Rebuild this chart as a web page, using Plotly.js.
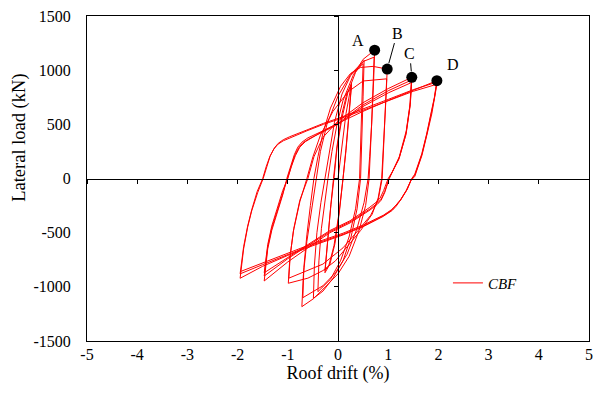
<!DOCTYPE html>
<html>
<head>
<meta charset="utf-8">
<script src="https://cdn.plot.ly/plotly-3.0.1.min.js"></script>
<style>html,body{margin:0;padding:0;background:#fff;}#chart{width:597px;height:394px;}</style>
</head>
<body>
<div id="chart"></div>
<script>
// Hysteresis response of the CBF: roof drift (%) vs lateral load (kN)
const drift = [
  0,0.08,0.16,0.27,
  0.22,0.16,0.1,0.03,-0.06,-0.16,-0.26,
  -0.21,-0.15,-0.09,-0.02,0.08,0.18,0.27,
  0.22,0.16,0.1,0.02,-0.08,-0.18,-0.26,
  -0.2,-0.14,-0.08,
  -0.02,0.08,0.2,0.35,0.52,
  0.5,0.48,0.45,0.38,0.26,0.1,-0.1,-0.3,-0.49,
  -0.47,-0.42,-0.34,-0.26,-0.18,-0.07,0.08,0.25,0.5,
  0.48,0.46,0.43,0.35,0.22,0.05,-0.15,-0.4,
  -0.38,-0.33,-0.26,-0.2,-0.12,-0.02,0.1,0.3,0.5,0.73,
  0.71,0.68,0.65,0.62,0.55,0.42,0.22,0.0,-0.23,-0.49,-0.72,
  -0.69,-0.62,-0.52,-0.44,-0.35,-0.22,0.0,0.25,0.5,0.72,
  0.7,0.67,0.63,0.6,0.52,0.38,0.18,-0.05,-0.3,-0.7,
  -0.68,-0.62,-0.55,-0.48,-0.4,-0.3,-0.15,0.05,0.25,0.45,0.7,0.98,
  0.96,0.93,0.9,0.87,0.8,0.68,0.45,0.2,-0.05,-0.3,-0.6,-0.99,
  -0.96,-0.89,-0.76,-0.62,-0.5,-0.35,-0.1,0.2,0.5,0.97,
  0.95,0.92,0.88,0.8,0.65,0.4,0.1,-0.3,-0.98,
  -0.95,-0.88,-0.76,-0.6,-0.48,-0.3,0,0.5,1.0,1.47,
  1.44,1.36,1.22,1.1,1.02,0.93,0.86,0.78,0.64,0.24,-0.16,-0.6,-1.0,-1.47,
  -1.4,-1.32,-1.22,-1.1,-1.02,-0.95,-0.87,-0.8,-0.72,-0.6,-0.45,-0.3,0,0.5,1.0,1.47,
  1.44,1.36,1.22,1.1,1.02,0.93,0.86,0.78,0.64,0.24,-0.16,-0.6,-1.0,-1.47,
  -1.4,-1.32,-1.22,-1.1,-1.01,-0.94,-0.86,-0.78,-0.7,-0.58,-0.45,-0.3,0,0.5,1.0,1.46,
  1.43,1.35,1.21,1.08,1.0,0.91,0.84,0.76,0.62,0.24,-0.16,-0.6,-1.0,-1.47,
  -1.4,-1.32,-1.22,-1.1,-1.0,-0.93,-0.85,-0.76,-0.65,-0.4,0,0.5,1.0,1.5,1.97,
  1.92,1.87,1.77,1.67,1.53,1.47,1.38,1.26,1.16,1.08,1.0,0.9,0.5,0.1,-0.5,-1.0,-1.5,-1.95,
  -1.88,-1.8,-1.72,-1.6,-1.49,-1.42,-1.35,-1.27,-1.19,-1.09,-0.96,-0.62,-0.29,0,0.5,1.0,1.5,1.97,
  1.92,1.87,1.77,1.67,1.53,1.46,1.37,1.25,1.15,1.07,0.99,0.9,0.5,0.1,-0.5,-1.0,-1.5,-1.95,
  -1.88,-1.8,-1.72,-1.61,-1.5,-1.43,-1.36,-1.28,-1.2,-1.09,-0.96,-0.62,-0.29,0,0.5,1.0,1.5,1.97,
  1.92,1.87,1.77,1.67,1.53,1.45,1.36,1.24,1.14,1.06,0.98,0.9,0.5,0.1,-0.5,-1.0,-1.5,-1.95
];
const load = [
  0,300,600,880,
  580,280,0,-300,-600,-790,-870,
  -580,-280,0,300,600,790,860,
  560,260,0,-320,-620,-800,-850,
  -540,-240,0,
  280,560,800,980,1090,
  760,380,0,-280,-540,-760,-920,-1040,-1106,
  -800,-500,-220,0,250,520,780,950,1060,
  700,350,0,-280,-540,-760,-930,-1045,
  -760,-460,-200,0,250,500,720,950,1100,1185,
  900,600,300,0,-250,-480,-720,-880,-990,-1110,-1183,
  -890,-580,-280,0,250,500,760,960,1080,1120,
  850,500,200,0,-220,-460,-700,-870,-990,-1100,
  -820,-520,-250,0,200,420,650,850,970,1025,1035,1010,
  780,520,260,0,-180,-330,-480,-620,-760,-850,-920,-967,
  -740,-490,-214,0,200,400,620,800,900,920,
  700,400,0,-200,-340,-480,-640,-790,-920,
  -700,-460,-200,0,200,380,530,700,830,934,
  700,440,200,80,0,-130,-200,-240,-290,-410,-500,-640,-770,-946,
  -650,-480,-330,-150,0,110,220,290,335,375,405,440,510,680,810,910,
  680,420,190,70,0,-120,-190,-230,-280,-400,-490,-620,-740,-900,
  -630,-460,-310,-130,0,110,215,285,330,365,395,430,500,665,790,885,
  660,400,175,60,0,-110,-180,-220,-270,-390,-480,-610,-730,-870,
  -610,-440,-290,-110,0,110,210,290,340,410,510,620,720,815,903,
  750,630,420,230,40,0,-100,-190,-255,-295,-322,-350,-445,-521,-620,-710,-810,-921,
  -650,-450,-300,-130,0,115,210,280,325,358,386,448,509,555,640,730,820,890,
  740,620,410,220,30,-10,-105,-195,-255,-292,-318,-345,-440,-515,-610,-700,-795,-880,
  -630,-440,-290,-120,0,110,200,270,315,348,375,440,500,545,630,715,805,870,
  720,600,400,210,20,-20,-110,-200,-255,-290,-315,-340,-430,-505,-600,-690,-780,-860
];
// Marked peak points
const peakLabels = ["A", "B", "C", "D"];
const peakDrift = [0.73, 0.98, 1.47, 1.97];
const peakLoad = [1185, 1010, 934, 903];
// Axis ticks
const xTicks = [-5, -4, -3, -2, -1, 0, 1, 2, 3, 4, 5];
const yTicks = [-1500, -1000, -500, 0, 500, 1000, 1500];

const FONT = "Liberation Serif, Times New Roman, serif";

const traces = [
  {
    x: drift, y: load, type: "scatter", mode: "lines", name: "CBF",
    line: {color: "#ff0000", width: 1}, hoverinfo: "skip"
  },
  {
    x: peakDrift, y: peakLoad, type: "scatter", mode: "markers", showlegend: false,
    marker: {color: "#000", size: 11}, hoverinfo: "skip"
  },
  {
    x: [0], y: [0], xaxis: "x2", yaxis: "y2", type: "scatter", mode: "markers",
    marker: {opacity: 0}, showlegend: false, hoverinfo: "skip"
  }
];

const labelOffsets = {A: {ax: -17, ay: -10, arrow: false}, B: {ax: 10, ay: -36, arrow: true}, C: {ax: -2, ay: -24, arrow: true}, D: {ax: 16, ay: -16, arrow: false}};
const annotations = peakLabels.map((lab, i) => {
  const o = labelOffsets[lab];
  if (o.arrow) {
    return {x: peakDrift[i], y: peakLoad[i], xref: "x", yref: "y", text: lab,
      showarrow: true, arrowhead: 0, arrowwidth: 1, arrowcolor: "#000", ax: o.ax, ay: o.ay,
      standoff: 6, font: {family: FONT, size: 16, color: "#000"}};
  }
  return {x: peakDrift[i], y: peakLoad[i], xref: "x", yref: "y", text: lab, showarrow: false,
    xshift: o.ax, yshift: -o.ay, font: {family: FONT, size: 16, color: "#000"}};
});
// y axis title
annotations.push({xref: "paper", yref: "paper", x: -0.1335, y: 0.625, xanchor: "center", yanchor: "middle",
  text: "Lateral load (kN)", textangle: -90, showarrow: false, font: {family: FONT, size: 18.5, color: "#000"}});

const layout = {
  width: 597, height: 394,
  margin: {l: 87, r: 8, t: 16, b: 53},
  paper_bgcolor: "#fff", plot_bgcolor: "#fff",
  font: {family: FONT, size: 16, color: "#000"},
  showlegend: true,
  legend: {x: 0.719, y: 0.178, xanchor: "left", yanchor: "middle", bgcolor: "rgba(0,0,0,0)",
    font: {family: FONT, size: 15, color: "#000", style: "italic"}},
  xaxis: {
    range: [-5, 5], tickvals: xTicks, ticktext: xTicks.map(String),
    showgrid: false, zeroline: false, showline: true, mirror: true, linecolor: "#000", linewidth: 1,
    ticks: "", ticklabelstandoff: -1,
    title: {text: "Roof drift (%)", font: {family: FONT, size: 18, color: "#000"}, standoff: 4}
  },
  yaxis: {
    range: [-1500, 1500], tickvals: yTicks, ticktext: yTicks.map(String),
    showgrid: false, zeroline: false, showline: true, mirror: true, linecolor: "#000", linewidth: 1,
    ticks: "", ticklabelstandoff: 12
  },
  xaxis2: {
    overlaying: "x", anchor: "free", position: 0.5, range: [-5, 5], tickvals: xTicks,
    showticklabels: false, showgrid: false, zeroline: false, showline: true,
    linecolor: "#000", linewidth: 1, ticks: "outside", ticklen: 4, tickcolor: "#000", side: "bottom"
  },
  yaxis2: {
    overlaying: "y", anchor: "free", position: 0.5, range: [-1500, 1500], tickvals: yTicks,
    showticklabels: false, showgrid: false, zeroline: false, showline: true,
    linecolor: "#000", linewidth: 1, ticks: "outside", ticklen: 4, tickcolor: "#000", side: "left"
  },
  annotations: annotations
};

Plotly.newPlot("chart", traces, layout, {staticPlot: true, displayModeBar: false});
</script>
</body>
</html>
